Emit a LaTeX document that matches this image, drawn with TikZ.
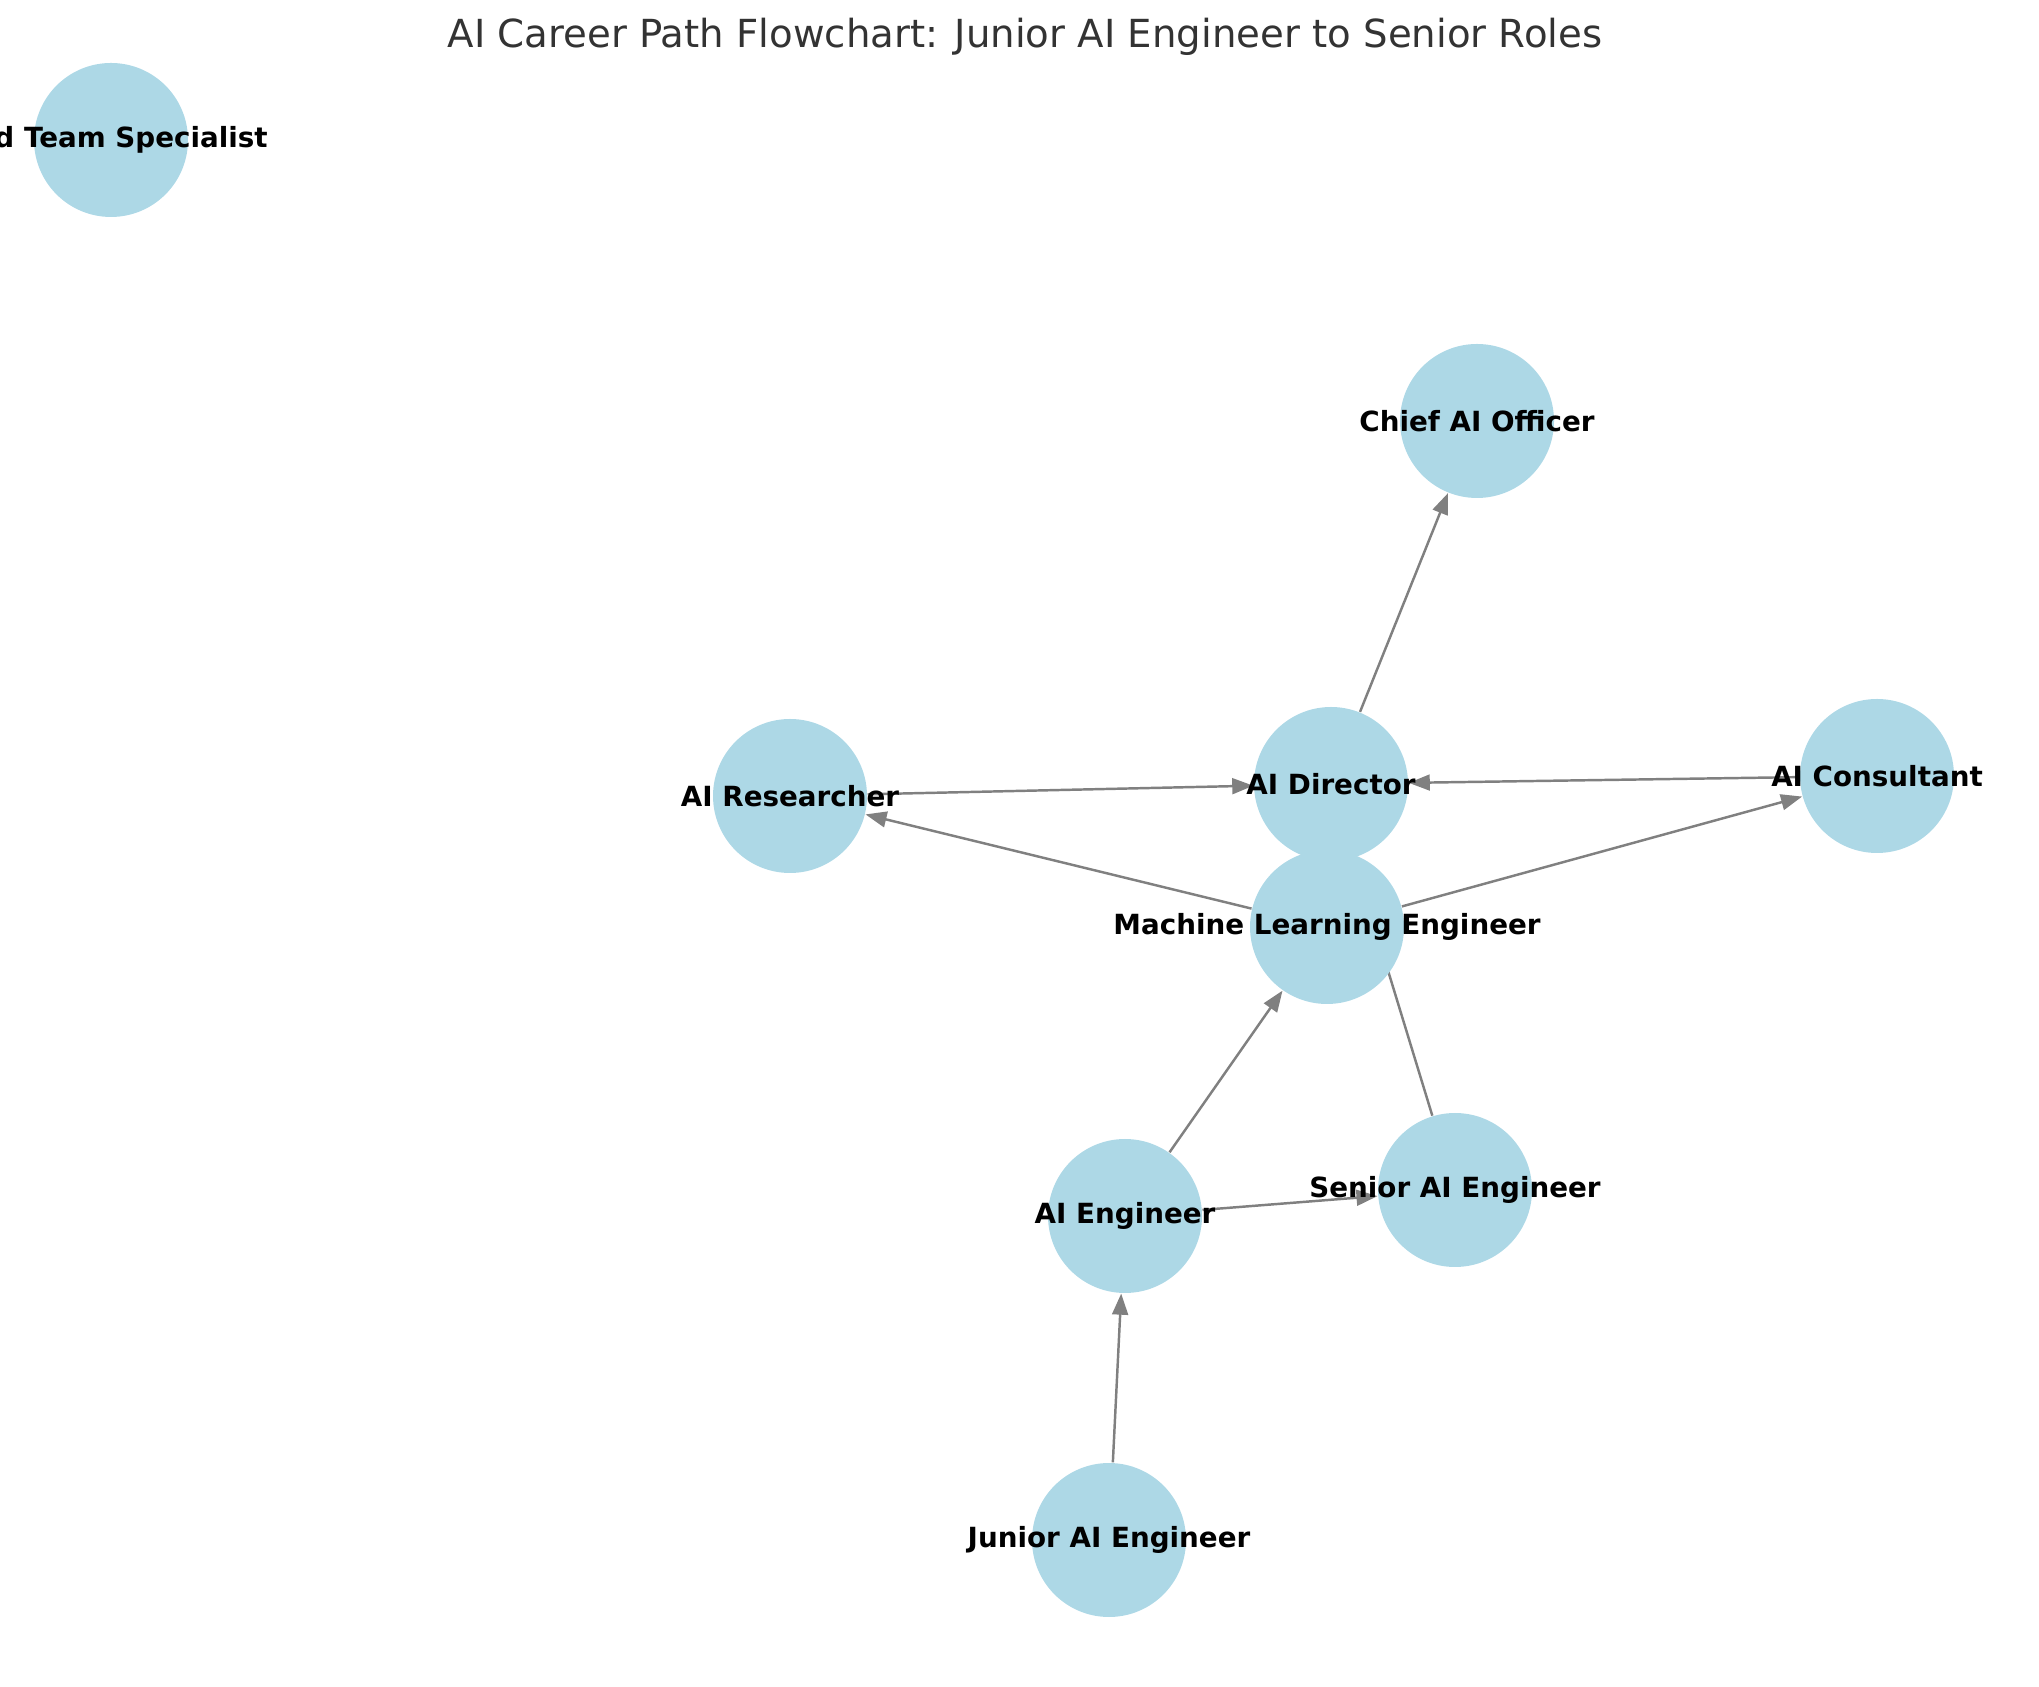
\documentclass[tikz,border=0pt]{standalone}
\usepackage{fontspec}
\setmainfont{DejaVu Sans}
\usetikzlibrary{arrows.meta,backgrounds}
\definecolor{nodeblue}{HTML}{ADD8E6}
\definecolor{edgegray}{HTML}{808080}
\definecolor{titlegray}{HTML}{333333}
\tikzset{
  role/.style={circle,fill=nodeblue,minimum size=1.54cm,inner sep=0pt},
  lbl/.style={font=\fontsize{7.9}{9}\selectfont\bfseries,inner sep=0pt},
  link/.style={draw=edgegray,line width=0.7pt,-{Triangle[length=6pt,width=4.5pt]}}
}
\begin{document}
\begin{tikzpicture}

    \useasboundingbox (0,0) rectangle (20.39,16.86);
    \clip (0,0) rectangle (20.39,16.86);

    \node (title) at (10.25,16.49) {\fontsize{11}{13}\selectfont\color{titlegray}AI Career Path Flowchart: Junior AI Engineer to Senior Roles};

    \node[role] (red) at (1.11, 15.46) {};
    \node[role] (cao) at (14.77, 12.65) {};
    \node[role] (res) at (7.90, 8.90) {};
    \node[role] (dir) at (13.31, 9.02) {};
    \node[role] (con) at (18.77, 9.10) {};
    \node[role] (mle) at (13.27, 7.59) {};
    \node[role] (sen) at (14.55, 4.96) {};
    \node[role] (aie) at (11.25, 4.70) {};
    \node[role] (jr) at (11.09, 1.46) {};

    \draw [link] (jr) to (aie);
    \draw [link] (aie) to (mle);
    \draw [link] (aie) to (sen);
    \begin{pgfonlayer}{background}
      \draw [link] (sen) to (dir);
    \end{pgfonlayer}
    \draw [link] (mle) to (res);
    \draw [link] (mle) to (con);
    \draw [link] (res) to (dir);
    \draw [link] (con) to (dir);
    \draw [link] (dir) to (cao);

    \node[lbl] at (red) {Red Team Specialist};
    \node[lbl] at (cao) {Chief AI Officer};
    \node[lbl] at (res) {AI Researcher};
    \node[lbl] at (dir) {AI Director};
    \node[lbl] at (con) {AI Consultant};
    \node[lbl] at (mle) {Machine Learning Engineer};
    \node[lbl] at (sen) {Senior AI Engineer};
    \node[lbl] at (aie) {AI Engineer};
    \node[lbl] at (jr) {Junior AI Engineer};

\end{tikzpicture}
\end{document}
